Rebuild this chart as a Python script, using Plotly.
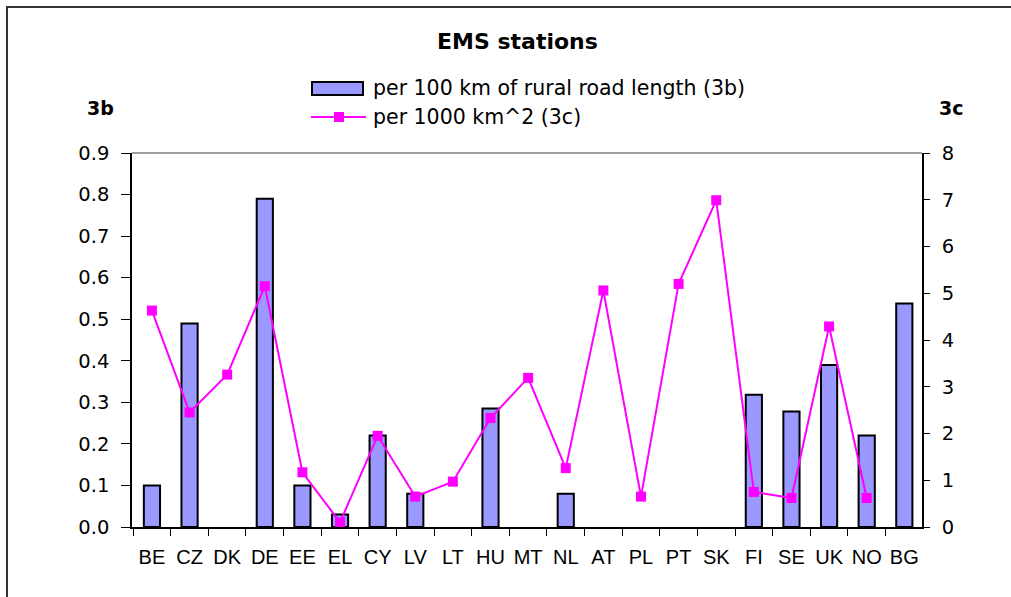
import plotly.graph_objects as go

countries = ["BE", "CZ", "DK", "DE", "EE", "EL", "CY", "LV", "LT", "HU", "MT",
             "NL", "AT", "PL", "PT", "SK", "FI", "SE", "UK", "NO", "BG"]

# EMS stations per 100 km of rural road length (3b), left axis
per_100km_road = [0.10, 0.49, None, 0.79, 0.10, 0.03, 0.22, 0.08, None, 0.285, None,
                  0.08, None, None, None, None, 0.318, 0.278, 0.39, 0.22, 0.538]

# EMS stations per 1000 km^2 (3c), right axis
per_1000km2 = [4.63, 2.45, 3.26, 5.15, 1.17, 0.10, 1.95, 0.65, 0.97, 2.33, 3.19,
               1.26, 5.06, 0.65, 5.20, 6.99, 0.75, 0.62, 4.29, 0.62, None]

left_ticks = [0.0, 0.1, 0.2, 0.3, 0.4, 0.5, 0.6, 0.7, 0.8, 0.9]
right_ticks = [0, 1, 2, 3, 4, 5, 6, 7, 8]

legend_bar = "per 100 km of rural road length (3b)"
legend_line = "per 1000 km^2 (3c)"

BAR_FILL = "#9999FF"
LINE_COL = "#FF00FF"
FONT = "Liberation Sans, Arial, sans-serif"
WIDE = "DejaVu Sans, Verdana, sans-serif"

W, H = 1011, 597
L, R, T, B = 132, 89, 153, 70
pw, ph = W - L - R, H - T - B


def px(x):
    return (x - L) / pw


def py(y):
    return (H - B - y) / ph


fig = go.Figure()

fig.add_trace(go.Bar(
    x=countries, y=per_100km_road, name=legend_bar,
    marker=dict(color=BAR_FILL, line=dict(color="black", width=2)),
    width=0.43, yaxis="y", showlegend=False,
))

fig.add_trace(go.Scatter(
    x=countries, y=per_1000km2, name=legend_line, mode="lines+markers",
    line=dict(color=LINE_COL, width=2),
    marker=dict(symbol="square", size=10, color=LINE_COL),
    yaxis="y2", showlegend=False, cliponaxis=False,
))

fig.update_layout(
    width=W, height=H,
    margin=dict(l=L, r=R, t=T, b=B, autoexpand=False),
    paper_bgcolor="white", plot_bgcolor="white",
    font=dict(family=FONT, size=19, color="black"),
    xaxis=dict(
        type="category", range=[-0.53, len(countries) - 0.53],
        showline=True, linecolor="black", linewidth=1.5,
        ticks="outside", tickson="boundaries", ticklen=7, tickcolor="black",
        tickwidth=1, showgrid=False, zeroline=False, tickangle=0,
        tickfont=dict(family=FONT, size=20), ticklabelstandoff=11,
    ),
    yaxis=dict(
        range=[0, 0.9], tickvals=left_ticks, tickformat=".1f",
        showline=True, linecolor="black", linewidth=1.5,
        ticks="outside", ticklen=9, tickcolor="black", tickwidth=1,
        showgrid=False, zeroline=False, ticklabelstandoff=8,
        tickfont=dict(family=WIDE, size=19.5),
    ),
    yaxis2=dict(
        range=[0, 8], tickvals=right_ticks, overlaying="y", side="right",
        showline=True, linecolor="black", linewidth=1.5,
        ticks="outside", ticklen=6, tickcolor="black", tickwidth=1,
        showgrid=False, zeroline=False, ticklabelstandoff=8,
        tickfont=dict(family=WIDE, size=19.5),
    ),
)

shapes = [
    # plot-area top edge
    dict(type="line", xref="paper", yref="paper", x0=0, x1=1, y0=1, y1=1,
         line=dict(color="#808080", width=1.5)),
    # chart frame: top and left edges
    dict(type="line", xref="paper", yref="paper", x0=px(6), x1=px(W + 5),
         y0=py(7), y1=py(7), line=dict(color="#333333", width=2)),
    dict(type="line", xref="paper", yref="paper", x0=px(7), x1=px(7),
         y0=py(6), y1=py(H + 5), line=dict(color="#333333", width=2)),
    # legend key: bar swatch
    dict(type="rect", xref="paper", yref="paper", x0=px(312), x1=px(363),
         y0=py(95), y1=py(82), fillcolor=BAR_FILL, line=dict(color="black", width=2)),
    # legend key: line with square marker
    dict(type="line", xref="paper", yref="paper", x0=px(311), x1=px(366),
         y0=py(117), y1=py(117), line=dict(color=LINE_COL, width=2)),
    dict(type="rect", xref="paper", yref="paper", x0=px(334), x1=px(344),
         y0=py(122), y1=py(112), fillcolor=LINE_COL, line=dict(width=0)),
]

annotations = [
    dict(text="<b>EMS stations</b>", x=px(517), y=py(42), xref="paper", yref="paper",
         showarrow=False, font=dict(family=WIDE, size=22), xanchor="center",
         yanchor="middle"),
    dict(text="<b>3b</b>", x=px(100), y=py(108), xref="paper", yref="paper",
         showarrow=False, font=dict(family=WIDE, size=19), xanchor="center",
         yanchor="middle"),
    dict(text="<b>3c</b>", x=px(951), y=py(108), xref="paper", yref="paper",
         showarrow=False, font=dict(family=WIDE, size=19), xanchor="center",
         yanchor="middle"),
    dict(text=legend_bar, x=px(371), y=py(88), xref="paper", yref="paper",
         showarrow=False, font=dict(family=WIDE, size=20.5), xanchor="left",
         yanchor="middle"),
    dict(text=legend_line, x=px(371), y=py(117), xref="paper", yref="paper",
         showarrow=False, font=dict(family=WIDE, size=20.5), xanchor="left",
         yanchor="middle"),
]

fig.update_layout(shapes=shapes, annotations=annotations)

fig.write_html("out.html")
